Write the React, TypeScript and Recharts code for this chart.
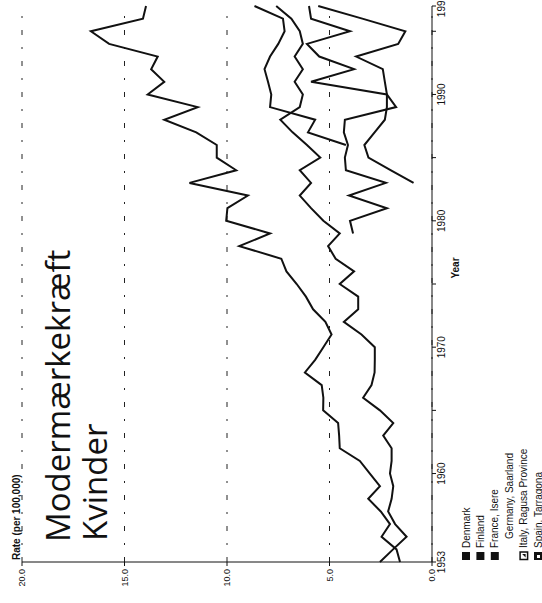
import React from 'react';
import { LineChart, Line, XAxis, YAxis, CartesianGrid } from 'recharts';

// years on the x axis (1953-1997)
const years = [
  1953, 1954, 1955, 1956, 1957, 1958, 1959, 1960, 1961, 1962,
  1963, 1964, 1965, 1966, 1967, 1968, 1969, 1970, 1971, 1972,
  1973, 1974, 1975, 1976, 1977, 1978, 1979, 1980, 1981, 1982,
  1983, 1984, 1985, 1986, 1987, 1988, 1989, 1990, 1991, 1992,
  1993, 1994, 1995, 1996, 1997,
];

// rate per 100,000
const denmark = [
  1.56, 1.73, 2.46, 2.05, 2.5, 3.11, 2.54, 3.03, 3.52, 4.5,
  4.53, 4.58, 5.31, 5.3, 5.38, 6.2, 5.7, 5.3, 4.9, 5.2,
  5.8, 6.15, 6.6, 7.1, 7.35, 9.4, 7.9, 10.04, 9.98, 8.98,
  11.83, 9.55, 10.5, 10.5, 11.5, 13.06, 11.43, 13.87, 13.06, 13.7,
  13.38, 15.75, 16.64, 14.1, 13.95,
];
const finland = [
  2.54, 1.9, 1.24, 1.8, 2.14, 1.97, 1.89, 2.05, 1.97, 1.97,
  2.38, 1.89, 2.54, 3.36, 2.95, 2.8, 2.79, 2.79, 3.44, 4.3,
  3.6, 3.6, 4.5, 3.8, 4.7, 5.07, 4.5, 5.3, 5.9, 6.45,
  5.9, 6.45, 5.45, 6.1, 6.8, 7.4, 6.45, 6.3, 6.7, 6.3,
  6.7, 6.3, 6.45, 6.86, 7.6,
];
const franceStart = 1979;
const france = [3.85, 4.0, 2.2, 4.05, 2.25, 4.2, 4.25, 4.1, 4.3, 4.25, 1.75, 2.2, 5.9, 3.8, 5.5, 6.1, 4.0, 5.9, 6.0];
const italyStart = 1983;
const italy = [0.9, 2.0, 3.1, 3.3, 2.8, 2.3, 2.2, 2.2, 2.3, 2.4, 3.7, 1.65, 1.3, 3.4, 5.55];
const spainStart = 1986;
const spain = [4.2, 6.05, 5.7, 7.9, 7.84, 8.0, 8.17, 7.9, 7.5, 7.19, 7.27, 8.66];

const rateTicks = [0, 5, 10, 15, 20];
const yearTicks = [1953, 1960, 1965, 1970, 1975, 1980, 1985, 1990, 1995, 1997];
const yearLabels = [1953, 1960, 1970, 1980, 1990, 1997];

const legendItems = ['Denmark', 'Finland', 'France, Isere', 'Germany, Saarland', 'Italy, Ragusa Province', 'Spain, Tarragona'];

const late = (arr: number[], start: number, year: number) =>
  year >= start && year - start < arr.length ? arr[year - start] : null;

const data = years.map((year, i) => ({
  year,
  denmark: denmark[i],
  finland: finland[i],
  france: late(france, franceStart, year),
  italy: late(italy, italyStart, year),
  spain: late(spain, spainStart, year),
}));

const W = 603;
const H = 542;
const font = 'Liberation Sans, Arial, sans-serif';
const ink = '#111';

const LegendMarker = ({ i, y }: { i: number; y: number }) => {
  if (i < 3) return <rect x={43} y={y - 4} width={8} height={8} fill={ink} />;
  if (i === 4)
    return (
      <g>
        <rect x={43.5} y={y - 3.5} width={7.5} height={7.5} fill="#fff" stroke={ink} strokeWidth={1.5} />
        <path d={`M45.5 ${y + 2} L49 ${y - 1.5} L49 ${y + 2} Z`} fill={ink} />
      </g>
    );
  if (i === 5)
    return (
      <g>
        <rect x={43} y={y - 4} width={8} height={8} fill={ink} />
        <rect x={45} y={y - 1} width={3} height={3} fill="#fff" />
      </g>
    );
  return null;
};

export default function App() {
  return (
    <div style={{ position: 'absolute', left: 0, top: 0, width: 542, height: 603, overflow: 'hidden', background: '#fff' }}>
      <div
        style={{
          position: 'absolute',
          left: 0,
          top: 0,
          width: W,
          height: H,
          transformOrigin: '0 0',
          transform: 'translateY(603px) rotate(-90deg)',
        }}
      >
        <LineChart width={W} height={H} data={data} margin={{ top: 22, right: 6, left: 0, bottom: 80 }}>
          <CartesianGrid vertical={false} stroke="#222" strokeDasharray="5 12 2 12" />
          <XAxis
            dataKey="year"
            type="number"
            domain={[1953, 1997]}
            ticks={yearTicks}
            interval={0}
            height={30}
            tickSize={4}
            tickMargin={2}
            tickFormatter={(v: number) => (yearLabels.includes(v) ? String(v) : '')}
            tick={{ fontSize: 10, fill: ink, fontFamily: font }}
            stroke={ink}
          />
          <YAxis
            domain={[0, 20]}
            ticks={rateTicks}
            width={41}
            tickSize={4}
            tickMargin={3}
            tickFormatter={(v: number) => v.toFixed(1)}
            tick={{ fontSize: 9, fill: ink, fontFamily: font }}
            stroke={ink}
          />
          <Line dataKey="denmark" stroke={ink} strokeWidth={2} dot={false} isAnimationActive={false} />
          <Line dataKey="finland" stroke={ink} strokeWidth={2} dot={false} isAnimationActive={false} />
          <Line dataKey="france" stroke={ink} strokeWidth={2} dot={false} isAnimationActive={false} />
          <Line dataKey="italy" stroke={ink} strokeWidth={2} dot={false} isAnimationActive={false} />
          <Line dataKey="spain" stroke={ink} strokeWidth={2} dot={false} isAnimationActive={false} />
        </LineChart>
        <svg width={W} height={H} style={{ position: 'absolute', left: 0, top: 0, pointerEvents: 'none' }}>
          <text x={61} y={70} fontFamily="Open Sans, sans-serif" fontSize={33} fill={ink}>
            Modermærkekræft
          </text>
          <text x={62} y={107} fontFamily="Open Sans, sans-serif" fontSize={33} fill={ink}>
            Kvinder
          </text>
          <text x={43} y={20} fontFamily={font} fontSize={10} fontWeight="bold" fill={ink}>
            Rate (per 100,000)
          </text>
          <text x={335} y={459} fontFamily={font} fontSize={10} fontWeight="bold" fill={ink} textAnchor="middle">
            Year
          </text>
          {legendItems.map((name, i) => {
            const y = 466 + i * 14.4;
            return (
              <g key={name}>
                <LegendMarker i={i} y={y} />
                <text x={i === 3 ? 64 : 55} y={y + 3.5} fontFamily={font} fontSize={10} fill={ink}>
                  {name}
                </text>
              </g>
            );
          })}
        </svg>
      </div>
    </div>
  );
}
